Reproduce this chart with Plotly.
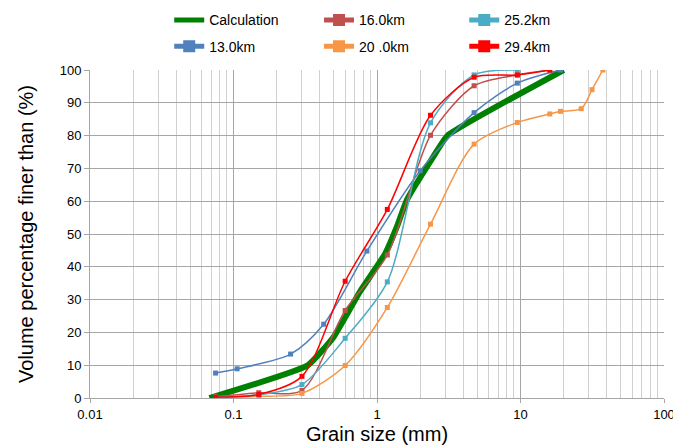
import plotly.graph_objects as go

# ---- data ----
calc_size = [0.068, 0.33, 0.5, 0.76, 1.14, 1.37, 1.6, 1.8, 2.47, 3.1, 20.0]
calc_pct = [0, 10, 18.7, 32.4, 44, 52, 60, 64, 73.6, 80, 100]

size_13 = [0.075, 0.106, 0.25, 0.425, 0.85, 2.0, 4.75, 9.5, 19.0]
pct_13 = [7.6, 8.9, 13.4, 22.5, 44.8, 69.3, 87.0, 96.0, 100]

size_16 = [0.075, 0.15, 0.3, 0.6, 1.18, 2.36, 4.75, 9.5, 16.0]
pct_16 = [0.4, 1.6, 2.3, 26.7, 43.6, 80.1, 95.2, 98.5, 100]

size_20 = [0.075, 0.15, 0.3, 0.6, 1.18, 2.36, 4.75, 9.5, 16.0, 19.0, 26.5, 31.5, 37.5]
pct_20 = [0.2, 0.5, 1.4, 9.9, 27.6, 53.0, 77.4, 84.0, 86.6, 87.4, 88.2, 94.0, 100]

size_25 = [0.075, 0.15, 0.3, 0.6, 1.18, 2.36, 4.75, 9.5]
pct_25 = [0.3, 1.0, 4.1, 18.2, 35.4, 83.9, 98.5, 100]

size_29 = [0.075, 0.15, 0.3, 0.6, 1.18, 2.36, 4.75, 9.5, 16.0]
pct_29 = [0.3, 1.1, 6.6, 35.6, 57.5, 86.2, 97.8, 98.5, 100]

x_tickvals = [0.01, 0.1, 1, 10, 100]
x_ticktext = ["0.01", "0.1", "1", "10", "100"]
y_tickvals = [0, 10, 20, 30, 40, 50, 60, 70, 80, 90, 100]

FONT = "Liberation Sans, Arial, sans-serif"

fig = go.Figure()

fig.add_trace(go.Scatter(
    x=calc_size, y=calc_pct, mode="lines", name="Calculation",
    line=dict(color="#008000", width=6, shape="spline", smoothing=0.4),
    legend="legend", legendgroup="a",
))

series = [
    ("13.0km", size_13, pct_13, "#4f81bd", "legend", "b"),
    ("16.0km", size_16, pct_16, "#c0504d", "legend2", "a"),
    ("20 .0km", size_20, pct_20, "#f79646", "legend2", "b"),
    ("25.2km", size_25, pct_25, "#4bacc6", "legend3", "a"),
    ("29.4km", size_29, pct_29, "#ff0000", "legend3", "b"),
]
for name, xs, ys, col, lg, grp in series:
    fig.add_trace(go.Scatter(
        x=xs, y=ys, mode="lines+markers", name=name,
        line=dict(color=col, width=1.5, shape="spline", smoothing=0.8),
        marker=dict(symbol="square", size=5, color=col),
        legend=lg, legendgroup=grp,
    ))

leg_common = dict(
    orientation="v", xref="paper", yref="paper", yanchor="top", xanchor="left",
    y=1.2, font=dict(family=FONT, size=14, color="#000000"),
    bgcolor="rgba(0,0,0,0)", tracegroupgap=5, itemsizing="constant",
)
fig.update_layout(
    legend=dict(x=0.138, **leg_common),
    legend2=dict(x=0.399, **leg_common),
    legend3=dict(x=0.652, **leg_common),
)

fig.update_layout(
    width=673, height=446,
    margin=dict(l=90, r=9, t=70, b=48, autoexpand=False),
    paper_bgcolor="white", plot_bgcolor="white",
    font=dict(family=FONT, size=13, color="#000000"),
    xaxis=dict(
        type="log", range=[-2, 2],
        tickvals=x_tickvals, ticktext=x_ticktext, ticklabeloverflow="allow",
        showgrid=True, gridcolor="#a6a6a6", gridwidth=1,
        minor=dict(dtick="D1", showgrid=True, gridcolor="#d0d0d0", gridwidth=1),
        showline=True, linecolor="#a6a6a6", linewidth=1,
        ticks="outside", ticklen=4, tickcolor="#a6a6a6",
        tickfont=dict(family=FONT, size=13),
        title=dict(text="Grain size (mm)", font=dict(family=FONT, size=20), standoff=6),
        zeroline=False, automargin=False,
    ),
    yaxis=dict(
        range=[0, 100], tickvals=y_tickvals,
        showgrid=True, gridcolor="#a6a6a6", gridwidth=1,
        showline=True, linecolor="#a6a6a6", linewidth=1,
        ticks="outside", ticklen=5, tickcolor="#a6a6a6",
        tickfont=dict(family=FONT, size=13),
        title=dict(text="Volume percentage finer than (%)", font=dict(family=FONT, size=20), standoff=20),
        zeroline=False, automargin=False,
    ),
)

fig.write_html("out.html")
